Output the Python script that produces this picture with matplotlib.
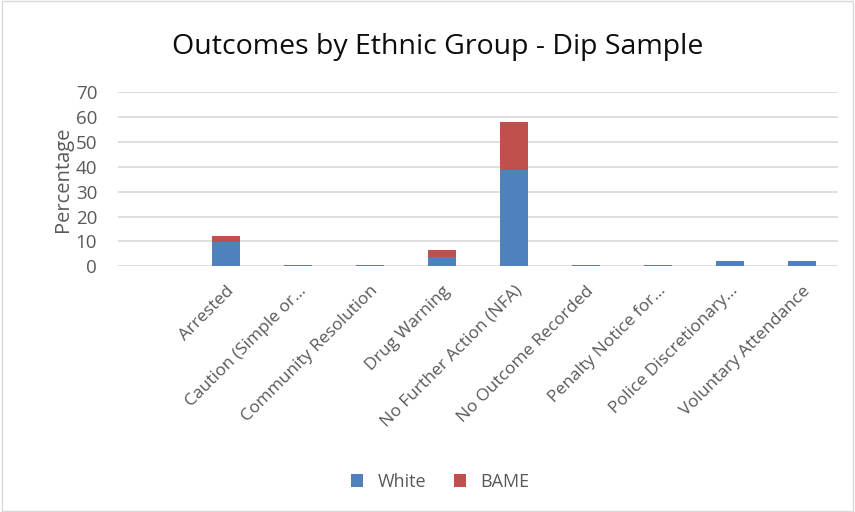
import numpy as np
import matplotlib
matplotlib.use("Agg")
import matplotlib.pyplot as plt

categories = ["", "Arrested", "Caution (Simple or...", "Community Resolution", "Drug Warning",
              "No Further Action (NFA)", "No Outcome Recorded", "Penalty Notice for...",
              "Police Discretionary...", "Voluntary Attendance"]
white = [0, 9.7, 0.6, 0.6, 3.8, 38.5, 0.6, 0.6, 2.0, 2.0]
bame = [0, 2.4, 0, 0, 2.7, 19.6, 0, 0, 0, 0]
yticks = [0, 10, 20, 30, 40, 50, 60, 70]

plt.rcParams["font.family"] = ["Open Sans", "DejaVu Sans"]
grey = "#595959"

fig = plt.figure(figsize=(8.55, 5.12), dpi=100)
ax = fig.add_axes([0.138, 0.48, 0.842, 0.34])
x = np.arange(len(categories))
ax.bar(x, white, width=0.4, color="#4f81bd", label="White", zorder=3)
ax.bar(x, bame, width=0.4, bottom=white, color="#c0504d", label="BAME", zorder=3)

ax.set_xlim(-0.5, len(categories) - 0.5)
ax.set_ylim(0, 70)
ax.set_yticks(yticks)
ax.grid(axis="y", color="#d9d9d9", lw=1.2, zorder=0)
for sp in ax.spines.values():
    sp.set_visible(False)
ax.tick_params(length=0, colors=grey)
ax.tick_params(axis="y", labelsize=13.5, pad=15)
ax.set_xticks(x)
ax.set_xticklabels(categories, rotation=45, ha="right", rotation_mode="anchor", fontsize=12.5)
ax.tick_params(axis="x", pad=12)
ax.set_ylabel("Percentage", color=grey, fontsize=14.5, labelpad=2)

fig.suptitle("Outcomes by Ethnic Group - Dip Sample", x=0.512, y=0.935, fontsize=20.5, color="#0d0d0d")
fig.legend(loc="lower center", bbox_to_anchor=(0.515, 0.01), ncol=2, frameon=False,
           fontsize=13, labelcolor=grey, handlelength=0.7, handleheight=0.7, columnspacing=1.5)

fig.patches.append(plt.Rectangle((0.002, 0.002), 0.996, 0.996, transform=fig.transFigure,
                                 fill=False, edgecolor="#d9d9d9", lw=1))
fig.savefig("out.png", dpi=100)
